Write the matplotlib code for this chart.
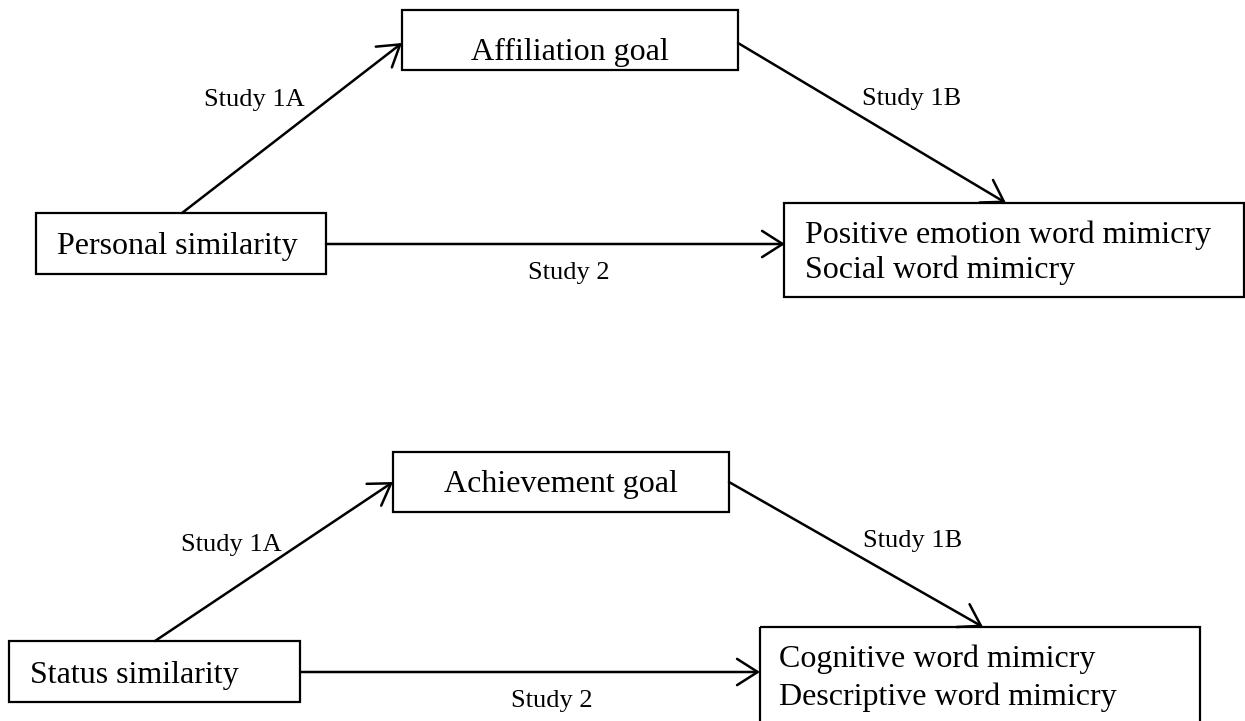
import matplotlib.pyplot as plt
from matplotlib.patches import Rectangle

# ==============================================================================
# CONTENT (pixel coordinates, y grows downward)
# ==============================================================================
# boxes: (x0, y0, x1, y1)
boxes = [
    (36, 213, 326, 274),      # Personal similarity
    (402, 10, 738, 70),       # Affiliation goal
    (784, 203, 1244, 297),    # Positive / Social
    (9, 641, 300, 702),       # Status similarity
    (393, 452, 729, 512),     # Achievement goal
    (760, 627, 1200, 730),    # Cognitive / Descriptive
]

# box texts: (x, baseline y, text, ha)
box_texts = [
    (57, 254, "Personal similarity", "left"),
    (570, 60, "Affiliation goal", "center"),
    (805, 243, "Positive emotion word mimicry", "left"),
    (805, 278, "Social word mimicry", "left"),
    (30, 683, "Status similarity", "left"),
    (561, 492, "Achievement goal", "center"),
    (779, 667, "Cognitive word mimicry", "left"),
    (779, 705, "Descriptive word mimicry", "left"),
]

# arrows: (x_start, y_start, x_end, y_end)
arrows = [
    (182, 213, 402, 43),
    (738, 43, 1006, 203),
    (326, 244, 785, 244),
    (155, 641, 393, 482),
    (729, 482, 983, 627),
    (300, 672, 760, 672),
]

# study labels: (x_center, baseline y, text)
study_labels = [
    (254, 106, "Study 1A"),
    (912, 105, "Study 1B"),
    (569, 279, "Study 2"),
    (231, 551, "Study 1A"),
    (913, 547, "Study 1B"),
    (552, 707, "Study 2"),
]

# ==============================================================================
# FIGURE
# ==============================================================================
W, H = 1245, 721
fig = plt.figure(figsize=(W / 100, H / 100), dpi=100)
ax = fig.add_axes([0, 0, 1, 1])
ax.set_xlim(0, W)
ax.set_ylim(H, 0)
ax.axis("off")

serif = "Liberation Serif"

for x0, y0, x1, y1 in boxes:
    ax.add_patch(Rectangle((x0, y0), x1 - x0, y1 - y0, fill=False,
                           edgecolor="black", linewidth=1.6))

for x, y, s, ha in box_texts:
    ax.text(x, y, s, ha=ha, va="baseline", fontsize=23, family=serif)

for xs, ys, xe, ye in arrows:
    ax.annotate("", xy=(xe, ye), xytext=(xs, ys),
                arrowprops=dict(arrowstyle="->,head_length=0.55,head_width=0.35",
                                color="black", linewidth=1.8,
                                shrinkA=0, shrinkB=0, mutation_scale=27))

for x, y, s in study_labels:
    ax.text(x, y, s, ha="center", va="baseline", fontsize=19, family=serif)

fig.savefig("out.png", dpi=100)
